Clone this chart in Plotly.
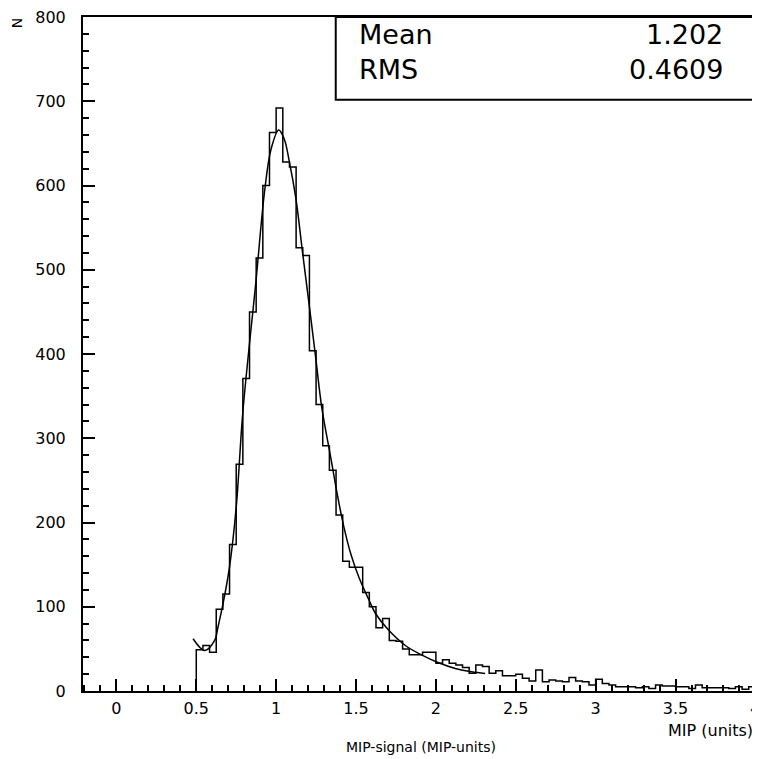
import plotly.graph_objects as go

# histogram: 84 bins of width 1/24 starting at 0.5
bin_lo = 0.5
bin_w = 1 / 24
counts = [49, 54, 46, 97, 115, 174, 269, 371, 450, 514, 600, 663, 692, 628,
          622, 526, 517, 404, 340, 291, 262, 209, 154, 147, 147, 117, 100, 75,
          86, 60, 59, 50, 43, 43, 46, 46, 33, 37, 33, 31, 28, 21, 31, 29,
          21, 24, 18, 18, 20, 15, 12, 25, 11, 13, 12, 11, 16, 12, 11, 7,
          14, 9, 7, 5, 5, 5, 4, 5, 3, 7, 6, 6, 5, 5, 3, 7, 4, 4,
          4, 4, 3, 5, 2, 5]

# fitted curve
fit_x = [0.48, 0.553, 0.615, 0.636, 0.667, 0.708, 0.75, 0.792, 0.875, 0.927,
         0.968, 1.016, 1.051, 1.082, 1.124, 1.165, 1.207, 1.248, 1.286, 1.342,
         1.383, 1.425, 1.467, 1.518, 1.581, 1.622, 1.705, 1.809, 1.913, 2.017,
         2.121, 2.224, 2.308]
fit_y = [62, 48, 60, 76, 103, 147, 218, 332, 489, 592,
         643, 666, 655, 629, 584, 521, 458, 395, 336, 277,
         233, 194, 163, 135, 108, 92, 72, 54, 42.5, 33.5,
         26.8, 22.8, 20.9]

mean_val = "1.202"
rms_val = "0.4609"

font = "DejaVu Sans"

edges = [bin_lo + i * bin_w for i in range(len(counts) + 1)]
hx = [bin_lo] + edges
hy = [0] + counts + [counts[-1]]

fig = go.Figure()
fig.add_trace(go.Scatter(x=hx, y=hy, mode="lines", line=dict(color="black", width=1.5, shape="hv"),
                         hoverinfo="skip"))
fig.add_trace(go.Scatter(x=fit_x, y=fit_y, mode="lines",
                         line=dict(color="black", width=1.5, shape="spline", smoothing=1),
                         hoverinfo="skip"))

# page has an 8px body margin, so the figure is sized/offset to compensate
fig.update_layout(
    width=752, height=751,
    margin=dict(l=75, r=0, t=6, b=68),
    paper_bgcolor="white", plot_bgcolor="white",
    showlegend=False,
    font=dict(family=font, color="black"),
)
fig.update_xaxes(
    range=[-0.209, 4.01], showgrid=False, zeroline=False,
    showline=True, linecolor="black", linewidth=2, mirror=True,
    ticks="inside", ticklen=12, tickwidth=1.5, tickcolor="black",
    tick0=0, dtick=0.5, tickfont=dict(size=16), ticklabelstandoff=2,
    ticklabeloverflow="allow",
    minor=dict(ticks="inside", ticklen=6, tickwidth=1.5, tickcolor="black", dtick=0.1, tick0=0),
)
fig.update_yaxes(
    range=[0, 800], showgrid=False, zeroline=False,
    showline=True, linecolor="black", linewidth=2,
    ticks="inside", ticklen=12, tickwidth=1.5, tickcolor="black",
    tick0=0, dtick=100, tickfont=dict(size=16), ticklabelstandoff=12,
    ticklabeloverflow="allow",
    minor=dict(ticks="inside", ticklen=6, tickwidth=1.5, tickcolor="black", dtick=20),
)

# stats box
fig.add_shape(type="rect", xref="x", yref="paper", x0=1.373, x1=4.3, y0=(691 - 97) / 677, y1=1.0,
              line=dict(color="black", width=2), fillcolor="white", layer="above")
fig.add_annotation(x=1.506, y=779, xref="x", yref="y", text="Mean", showarrow=False,
                   xanchor="left", yanchor="middle", font=dict(size=27))
fig.add_annotation(x=1.506, y=738, xref="x", yref="y", text="RMS", showarrow=False,
                   xanchor="left", yanchor="middle", font=dict(size=27))
fig.add_annotation(x=3.81, y=779, xref="x", yref="y", text=mean_val, showarrow=False,
                   xanchor="right", yanchor="middle", font=dict(size=27))
fig.add_annotation(x=3.81, y=738, xref="x", yref="y", text=rms_val, showarrow=False,
                   xanchor="right", yanchor="middle", font=dict(size=27))

# axis titles (positions given in page pixels, converted below)
fig.add_annotation(x=758, y=731, xref="paper", yref="paper", text="MIP (units)", showarrow=False,
                   xanchor="right", yanchor="middle", font=dict(size=16))
fig.add_annotation(x=423, y=747, xref="paper", yref="paper", text="MIP-signal (MIP-units)",
                   showarrow=False, xanchor="center", yanchor="middle", font=dict(size=14))
fig.add_annotation(x=17, y=20, xref="paper", yref="paper", text="N", textangle=-90,
                   showarrow=False, xanchor="center", yanchor="middle", font=dict(size=14))

for a in fig.layout.annotations:
    if a.xref == "paper":
        a.x = (a.x - 83) / 677
        a.y = (691 - a.y) / 677

fig.write_html("out.html")
